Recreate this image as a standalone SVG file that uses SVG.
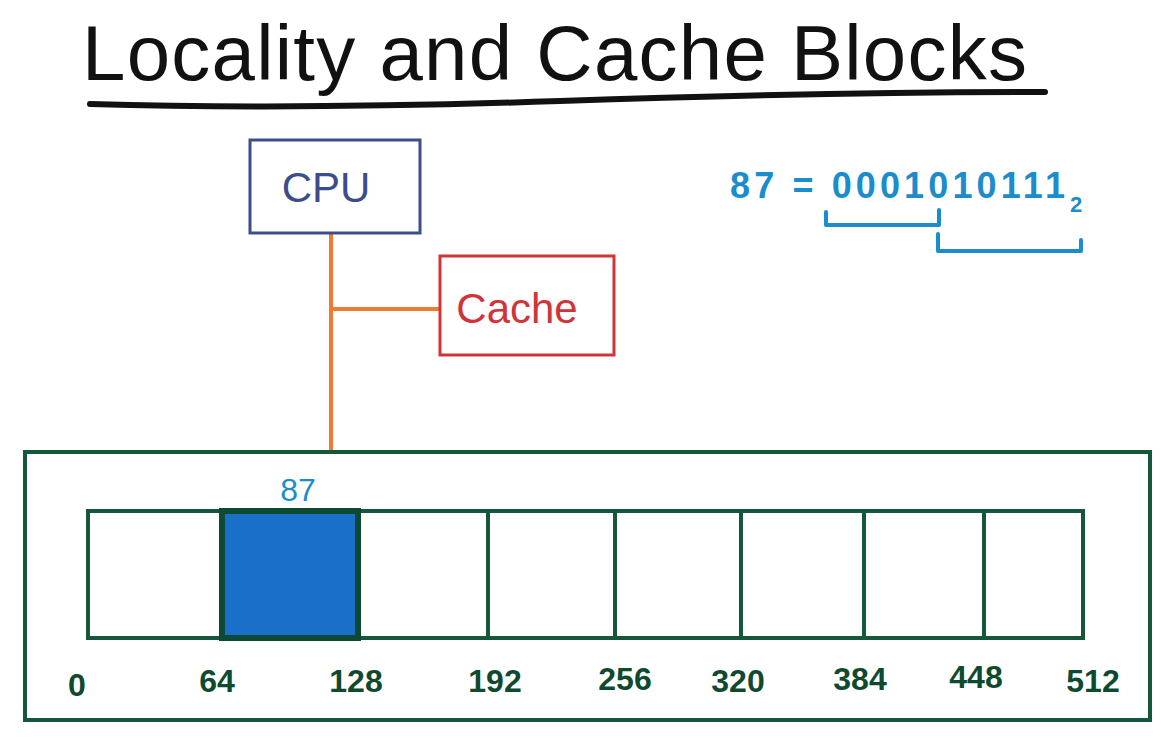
<svg xmlns="http://www.w3.org/2000/svg" width="1161" height="752" viewBox="0 0 1161 752">
<style>
.hand{font-family:"Liberation Sans",Arial,sans-serif;}
.title{font-size:78px;fill:#111;}
.mem{fill:none;stroke:#14573a;stroke-width:4;}
.lbl{font-size:32px;fill:#0f4a2f;font-weight:bold;text-anchor:middle;}
.blue{fill:#1b8ccc;}
.br{fill:none;stroke:#1b8ccc;stroke-width:4;stroke-linecap:round;stroke-linejoin:round;}
.wire{fill:none;stroke:#ee7b32;stroke-width:4;}
</style>
<rect width="1161" height="752" fill="#fff"/>
<g id="title">
<text class="hand title" x="82" y="80" textLength="945" lengthAdjust="spacing">Locality and Cache Blocks</text>
<path d="M90 104 Q300 110 560 101 T1045 92" fill="none" stroke="#111" stroke-width="6" stroke-linecap="round"/>
</g>
<g id="connectors">
<path class="wire" d="M331 234 V450"/>
<path class="wire" d="M333 309 H440"/>
</g>
<g id="cpu">
<rect x="250" y="140" width="170" height="93" fill="#fff" stroke="#3d4c8c" stroke-width="3"/>
<text class="hand" x="326" y="202" font-size="42" fill="#3d4c8c" text-anchor="middle">CPU</text>
</g>
<g id="cache">
<rect x="440" y="256" width="174" height="99" fill="#fff" stroke="#d03438" stroke-width="3"/>
<text class="hand" x="517" y="323" font-size="42" fill="#d03438" text-anchor="middle">Cache</text>
</g>
<g id="binary">
<text class="hand blue" x="730" y="198" font-size="36" font-weight="bold" textLength="335" lengthAdjust="spacing">87 = 0001010111</text>
<text class="hand blue" x="1070" y="212" font-size="22" font-weight="bold">2</text>
<path class="br" d="M826 212 V225 H939 V210"/>
<path class="br" d="M938 234 V251 H1081 V240"/>
</g>
<g id="memory">
<rect class="mem" x="25" y="452" width="1125" height="268"/>
<rect x="222" y="511" width="136" height="127" fill="#1a70c8"/>
<rect class="mem" x="88" y="511" width="995" height="127"/>
<path class="mem" d="M222 511 V638 M358 511 V638 M488 511 V638 M615 511 V638 M741 511 V638 M864 511 V638 M984 511 V638"/>
<rect x="222" y="511" width="136" height="127" fill="none" stroke="#0e4a33" stroke-width="6"/>
<text class="hand blue" x="298" y="501" font-size="32" text-anchor="middle">87</text>
<text class="hand lbl" x="77" y="696">0</text>
<text class="hand lbl" x="217" y="692">64</text>
<text class="hand lbl" x="356" y="692">128</text>
<text class="hand lbl" x="495" y="692">192</text>
<text class="hand lbl" x="625" y="690">256</text>
<text class="hand lbl" x="738" y="692">320</text>
<text class="hand lbl" x="860" y="690">384</text>
<text class="hand lbl" x="976" y="688">448</text>
<text class="hand lbl" x="1093" y="692">512</text>
</g>
</svg>
